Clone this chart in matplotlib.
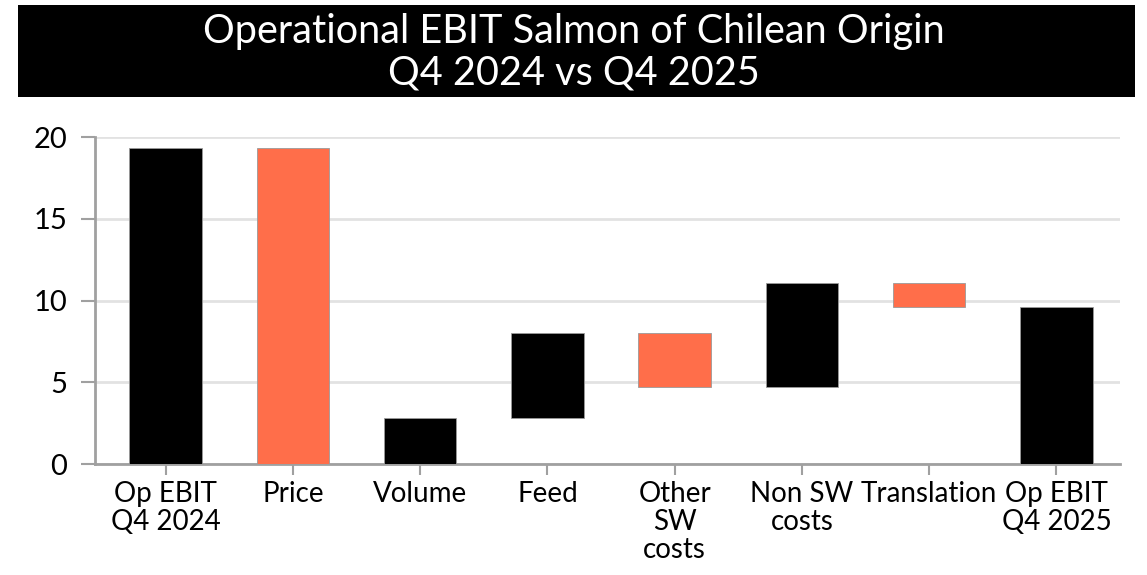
import matplotlib.pyplot as plt
from matplotlib.patches import Rectangle

labels = ["Op EBIT\nQ4 2024", "Price", "Volume", "Feed", "Other\nSW\ncosts",
          "Non SW\ncosts", "Translation", "Op EBIT\nQ4 2025"]
start_value = 19.3
changes = [-19.3, 2.8, 5.2, -3.3, 6.4, -1.5]
end_value = 9.6

BLACK = "#000000"
ORANGE = "#FF6E4A"

plt.rcParams['font.family'] = ['Lato', 'DejaVu Sans']

fig = plt.figure(figsize=(11.47, 5.75), dpi=100)
fig.patch.set_facecolor("white")

# black title banner
fig.patches.append(Rectangle((0.0157, 0.831), 0.9738, 0.160, transform=fig.transFigure,
                             facecolor="black", edgecolor="none", zorder=0))
fig.text(0.5, 0.909, "Operational EBIT Salmon of Chilean Origin\nQ4 2024 vs Q4 2025",
         color="white", ha="center", va="center", fontsize=28.5, linespacing=1.15)

ax = fig.add_axes([0.0828, 0.193, 0.8937, 0.5687])

# waterfall bars
bottoms, heights, colors = [0], [start_value], [BLACK]
level = start_value
for c in changes:
    new = level + c
    bottoms.append(min(level, new))
    heights.append(abs(c))
    colors.append(BLACK if c > 0 else ORANGE)
    level = new
bottoms.append(0)
heights.append(end_value)
colors.append(BLACK)

x = list(range(len(labels)))
ax.bar(x, heights, bottom=bottoms, width=0.57, color=colors, edgecolor="#9a9a9a",
       linewidth=0.6, zorder=3)

ax.set_xlim(-0.555, len(labels) - 0.5)
ax.set_ylim(0, 20)
ax.set_yticks([0, 5, 10, 15, 20])
ax.set_xticks(x)
ax.set_xticklabels(labels, fontsize=20, linespacing=1.1)
ax.tick_params(axis="y", labelsize=21, length=10, width=1.5, color="#a0a0a0", pad=10)
ax.tick_params(axis="x", length=8, width=1.5, color="#a0a0a0", pad=4)

ax.grid(axis="y", color="#e2e2e2", linewidth=2, zorder=0)
ax.set_axisbelow(True)
for side in ["top", "right"]:
    ax.spines[side].set_visible(False)
for side in ["left", "bottom"]:
    ax.spines[side].set_color("#a0a0a0")
    ax.spines[side].set_linewidth(2)

fig.savefig("out.png", dpi=100)
